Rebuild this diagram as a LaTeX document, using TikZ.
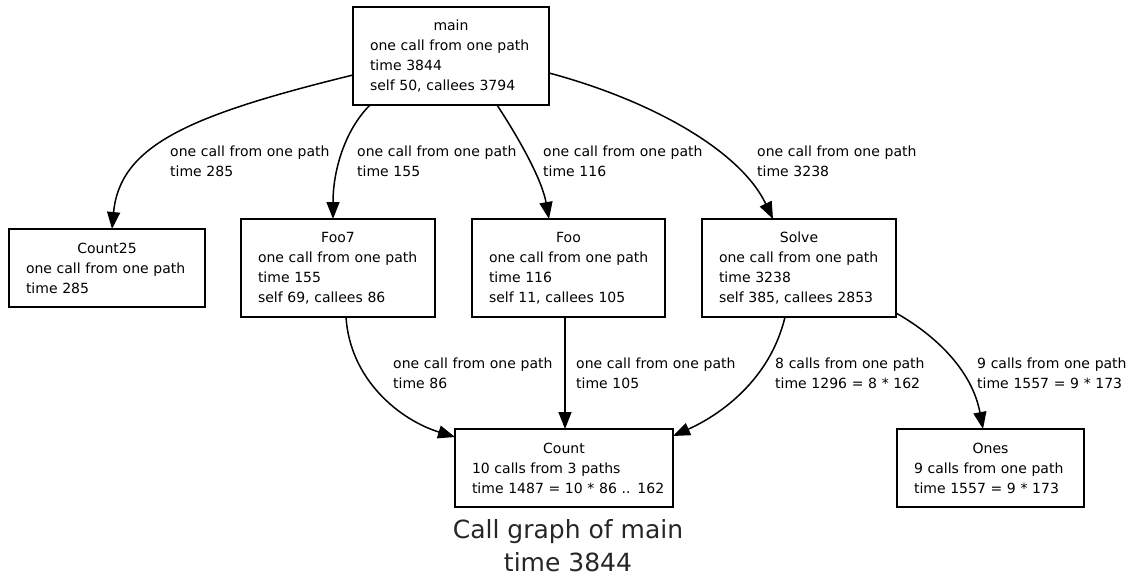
\documentclass[tikz,border=0pt]{standalone}
\usepackage{fontspec}
\setmainfont{DejaVu Sans}
\usetikzlibrary{arrows.meta,calc}
\begin{document}
\begin{tikzpicture}[x=1pt,y=-1pt,
  box/.style={draw, line width=1.8pt, rectangle, anchor=north west, outer sep=0pt,
    inner xsep=17pt, inner ysep=0pt, align=left, font=\fontsize{14}{20}\selectfont},
  lbl/.style={anchor=base west, inner sep=0pt, text width=200pt, align=left,
    font=\fontsize{14}{20}\selectfont},
  conn/.style={line width=1.5pt, -{Triangle[length=17pt,width=13pt]}}]
\useasboundingbox (0,0) rectangle (1137,578);

% nodes
\node[box, text width=162pt, minimum height=98pt] (main) at (353,7)
  {\centering main\par\raggedright\mbox{one call from one path}\\time 3844\\\mbox{self 50, callees 3794}};
\node[box, text width=162pt, minimum height=78pt] (c25) at (9,229)
  {\centering Count25\par\raggedright\mbox{one call from one path}\\time 285};
\node[box, text width=160pt, minimum height=98pt] (foo7) at (241,219)
  {\centering Foo7\par\raggedright\mbox{one call from one path}\\time 155\\\mbox{self 69, callees 86}};
\node[box, text width=159pt, minimum height=98pt] (foo) at (472,219)
  {\centering Foo\par\raggedright\mbox{one call from one path}\\time 116\\\mbox{self 11, callees 105}};
\node[box, text width=160pt, minimum height=98pt] (solve) at (702,219)
  {\centering Solve\par\raggedright\mbox{one call from one path}\\time 3238\\\mbox{self 385, callees 2853}};
\node[box, text width=184pt, minimum height=78pt] (count) at (455,429)
  {\centering Count\par\raggedright\mbox{10 calls from 3 paths}\\\mbox{time 1487 = 10 * 86 .. 162}};
\node[box, text width=153pt, minimum height=78pt] (ones) at (897,429)
  {\centering Ones\par\raggedright\mbox{9 calls from one path}\\\mbox{time 1557 = 9 * 173}};

% edge labels
\node[lbl] (l1) at (170,156) {one call from one path\\time 285};
\node[lbl] (l2) at (357,156) {one call from one path\\time 155};
\node[lbl] (l3) at (543,156) {one call from one path\\time 116};
\node[lbl] (l4) at (757,156) {one call from one path\\time 3238};
\node[lbl] (l5) at (393,368) {one call from one path\\time 86};
\node[lbl] (l6) at (576,368) {one call from one path\\time 105};
\node[lbl] (l7) at (775,368) {8 calls from one path\\time 1296 = 8 * 162};
\node[lbl] (l8) at (977,368) {9 calls from one path\\time 1557 = 9 * 173};

% title
\node[align=center, inner sep=0pt, font=\fontsize{25}{33}\selectfont, text=black!85] (title) at (568,546)
  {Call graph of main\\time 3844};

% connectors
\draw[conn] ($(main.north west)+(0,68)$) .. controls (190,115) and (120,145) .. ($(c25.north west)+(103,0)$);
\draw[conn] ($(main.north west)+(17,98)$) .. controls (345,130) and (333,170) .. ($(foo7.north west)+(92,0)$);
\draw[conn] ($(main.north west)+(144,98)$) .. controls (520,140) and (542,180) .. ($(foo.north west)+(77,0)$);
\draw[conn] ($(main.north west)+(196,66)$) .. controls (650,100) and (740,150) .. ($(solve.north west)+(71,0)$);
\draw[conn] ($(foo7.north west)+(105,98)$) .. controls (350,380) and (400,420) .. ($(count.north west)+(0,8)$);
\draw[conn] ($(foo.north west)+(93,98)$) -- ($(count.north west)+(110,0)$);
\draw[conn] ($(solve.north west)+(83,98)$) .. controls (770,380) and (720,415) .. ($(count.north west)+(218,7)$);
\draw[conn] ($(solve.north west)+(194,94)$) .. controls (935,335) and (972,370) .. ($(ones.north west)+(86,0)$);
\end{tikzpicture}
\end{document}
